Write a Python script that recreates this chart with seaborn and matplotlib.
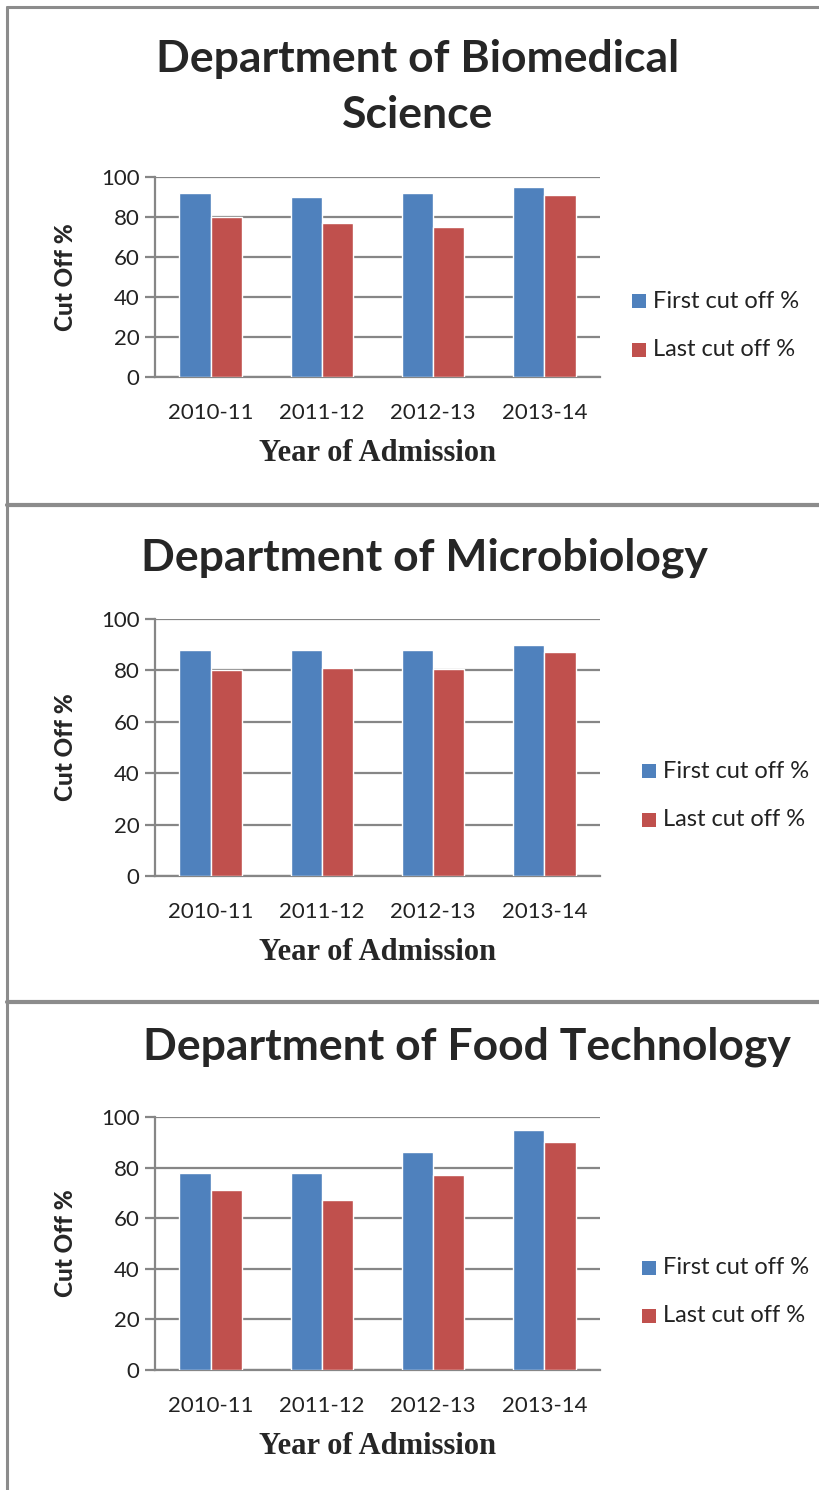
import matplotlib
matplotlib.use("Agg")
import matplotlib.pyplot as plt
import numpy as np
import pandas as pd
import seaborn as sns
from matplotlib.lines import Line2D

#%% data
years = ['2010-11', '2011-12', '2012-13', '2013-14']
series = ['First cut off %', 'Last cut off %']
titles = ['Department of Biomedical\nScience', 'Department of Microbiology',
          'Department of Food Technology']
biomed_first = [92, 90, 92, 95]
biomed_last = [80, 77, 75, 91]
micro_first = [88, 88, 88, 90]
micro_last = [80, 81, 80.5, 87]
food_first = [78, 78, 86, 95]
food_last = [71, 67, 77, 90]
yticks = [0, 20, 40, 60, 80, 100]

#%%
sns.set_theme(style='white')
plt.rcParams['font.family'] = ['Lato', 'DejaVu Sans']

W, H = 819, 1490
fig = plt.figure(figsize=(W / 100, H / 100), dpi=100)
fig.patch.set_facecolor('white')

def fx(px):
    return px / W

def fy(py):
    return 1 - py / H

blue = '#4f81bd'
red = '#c0504d'
axcol = '#868686'

panels = [
    (biomed_first, biomed_last, titles[0], (177, 377), (418, 87), (640, 301, 350)),
    (micro_first, micro_last, titles[1], (619, 876), (424, 558), (650, 771, 820)),
    (food_first, food_last, titles[2], (1117, 1370), (467, 1047), (650, 1268, 1316)),
]

for first, last, title, (top, bot), (tx, ty), (lx, ly1, ly2) in panels:
    df = pd.DataFrame({'Year': years * 2,
                       'Cut': first + last,
                       'Series': [series[0]] * 4 + [series[1]] * 4})
    ax = fig.add_axes([fx(155), fy(bot), fx(600 - 155), (bot - top) / H])
    sns.barplot(data=df, x='Year', y='Cut', hue='Series', palette=[blue, red],
                width=0.56, ax=ax, legend=False, saturation=1, zorder=3)
    ax.set_ylim(0, 100)
    ax.set_xlim(-0.5, 3.5)
    ax.set_yticks(yticks)
    ax.yaxis.grid(True, color=axcol, linewidth=1.6, zorder=0)
    ax.set_axisbelow(True)
    for s in ['top', 'right']:
        ax.spines[s].set_visible(False)
    for s in ['left', 'bottom']:
        ax.spines[s].set_color(axcol)
        ax.spines[s].set_linewidth(1.6)
    ax.tick_params(axis='y', left=True, length=7, width=1.6, color=axcol,
                   labelsize=16, pad=4, labelcolor='#222222')
    ax.tick_params(axis='x', bottom=False, labelsize=16, pad=13,
                   labelcolor='#222222')
    ax.set_xlabel('Year of Admission', family='Liberation Serif',
                  fontweight='bold', fontsize=22, labelpad=11)
    ax.set_ylabel('Cut Off %', fontweight='black', fontsize=17.5, labelpad=17)
    fig.text(fx(tx), fy(ty), title, ha='center', va='center', fontsize=32,
             fontweight='bold', linespacing=1.5)
    for yy, lab, col in [(ly1, series[0], blue), (ly2, series[1], red)]:
        fig.patches.append(plt.Rectangle((fx(lx - 8), fy(yy + 7)), fx(14), 14 / H,
                                         transform=fig.transFigure,
                                         facecolor=col, edgecolor='none'))
        fig.text(fx(lx + 13), fy(yy), lab, ha='left', va='center',
                 fontsize=17, color='#222222')

# frame lines
lc = '#8c8c8c'
fig.add_artist(Line2D([fx(7), 1], [fy(7), fy(7)], color=lc, linewidth=2.2))
fig.add_artist(Line2D([fx(7), fx(7)], [fy(7), 0], color=lc, linewidth=2.2))
for yy in [505, 1002]:
    fig.add_artist(Line2D([fx(7), 1], [fy(yy), fy(yy)], color=lc, linewidth=3))

fig.savefig('out.png', dpi=100)
